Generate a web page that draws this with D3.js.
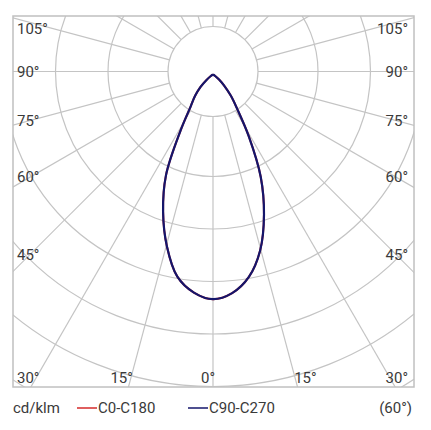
<!DOCTYPE html>
<html>
<head>
<meta charset="utf-8">
<script src="https://cdn.jsdelivr.net/npm/d3@7"></script>
<style>
  html, body { margin: 0; padding: 0; background: #fff; }
  svg { display: block; }
  text { font-family: Roboto, "Noto Sans", sans-serif; font-size: 15px; fill: #3a3a3a; }
</style>
</head>
<body>
<svg id="chart" width="431" height="430"></svg>
<script>
// ---- data ----
const ringValues = [200, 300, 400, 500, 600, 700];           // cd/klm rings
const sideLabels = [105, 90, 75, 60, 45];                     // degrees on left/right edges
const bottomLabels = [-30, -15, 0, 15, 30];                   // degrees on bottom edge
const gammaAngles = [0, 5, 10, 15, 20, 25, 30, 35, 40, 45, 50, 55, 60, 70, 80, 90];
const valuesC90  = [428, 418, 392, 347, 284, 215, 137, 81, 53, 30, 15, 5, 0, 0, 0, 0];
const valuesC270 = [428, 417, 391, 339, 278, 212, 124, 74, 53, 34, 16, 5, 0, 0, 0, 0];
const valuesC0   = valuesC90;
const valuesC180 = valuesC270;
const legendItems = ["C0-C180", "C90-C270"];
const unitLabel = "cd/klm";
const beamLabel = "(60°)";

// ---- layout ----
const frame = { x: 13, y: 16, w: 401, h: 371 };
const cx = 213, cy = 71.5;
const holeR = 45;
const curveDY = 3;
const gridColor = "#c4c4c4";
const colors = { "C0-C180": "#d42a2a", "C90-C270": "#14166b" };

const svg = d3.select("#chart");
const rScale = d3.scaleLinear().domain([0, 600]).range([0, 315]);

svg.append("defs").append("clipPath").attr("id", "frameClip")
  .append("rect").attr("x", frame.x).attr("y", frame.y).attr("width", frame.w).attr("height", frame.h);

const grid = svg.append("g").attr("clip-path", "url(#frameClip)")
  .append("g").attr("transform", `translate(${cx},${cy})`);

// rings
grid.selectAll("circle.ring").data(ringValues).enter().append("circle")
  .attr("class", "ring").attr("r", d => rScale(d))
  .attr("fill", "none").attr("stroke", gridColor).attr("stroke-width", 1.2);
grid.append("circle").attr("r", holeR)
  .attr("fill", "none").attr("stroke", gridColor).attr("stroke-width", 1.2);

// spokes every 15 degrees (0 = straight down)
const spokes = d3.range(0, 360, 15);
grid.selectAll("line.spoke").data(spokes).enter().append("line")
  .attr("class", "spoke")
  .attr("x1", d => holeR * Math.sin(d * Math.PI / 180))
  .attr("y1", d => holeR * Math.cos(d * Math.PI / 180))
  .attr("x2", d => 700 * Math.sin(d * Math.PI / 180))
  .attr("y2", d => 700 * Math.cos(d * Math.PI / 180))
  .attr("stroke", gridColor).attr("stroke-width", 1.2);

// frame
svg.append("rect").attr("x", frame.x).attr("y", frame.y).attr("width", frame.w).attr("height", frame.h)
  .attr("fill", "none").attr("stroke", "#c0c0c0").attr("stroke-width", 1.5);

// curves
function curvePoints(right, left) {
  const pts = [];
  for (let i = gammaAngles.length - 1; i >= 0; i--) pts.push([-gammaAngles[i], left[i]]);
  for (let i = 1; i < gammaAngles.length; i++) pts.push([gammaAngles[i], right[i]]);
  return pts;
}
const radial = d3.lineRadial()
  .angle(d => Math.PI - d[0] * Math.PI / 180)
  .radius(d => rScale(d[1]))
  .curve(d3.curveCatmullRom.alpha(0.5));

const curves = svg.append("g").attr("transform", `translate(${cx},${cy + curveDY})`);
curves.append("path").datum(curvePoints(valuesC0, valuesC180))
  .attr("d", radial).attr("fill", "none").attr("stroke", colors["C0-C180"]).attr("stroke-width", 2);
curves.append("path").datum(curvePoints(valuesC90, valuesC270))
  .attr("d", radial).attr("fill", "none").attr("stroke", colors["C90-C270"]).attr("stroke-width", 2.2)
  .attr("stroke-linejoin", "round");

// angle labels
const labels = svg.append("g");
const sideX = 30;
sideLabels.forEach(a => {
  const rad = a * Math.PI / 180;
  let y = cy + (cx - sideX) / Math.sin(rad) * Math.cos(rad);
  y = Math.max(y, frame.y + 13);
  labels.append("text").attr("x", frame.x + 4).attr("y", y).attr("dy", "0.35em")
    .attr("text-anchor", "start").text(a + "°");
  labels.append("text").attr("x", frame.x + frame.w - 6).attr("y", y).attr("dy", "0.35em")
    .attr("text-anchor", "end").text(a + "°");
});
const bottomY = 378;
bottomLabels.forEach(a => {
  const xl = cx + (bottomY - cy) * Math.tan(a * Math.PI / 180);
  const t = labels.append("text").attr("y", bottomY).attr("dy", "0.35em").text(Math.abs(a) + "°");
  const w = t.node().getComputedTextLength();
  let x0 = a <= 0 ? xl + 2 - w : xl - 1;
  x0 = Math.max(frame.x + 4, Math.min(x0, frame.x + frame.w - 6 - w));
  t.attr("x", x0).attr("text-anchor", "start");
});

// legend
const ly = 408;
const legend = svg.append("g");
legend.append("text").attr("x", 13).attr("y", ly).attr("dy", "0.35em").text(unitLabel);
const legendX = [77, 188];
legendItems.forEach((name, i) => {
  legend.append("line").attr("x1", legendX[i]).attr("x2", legendX[i] + 20)
    .attr("y1", ly).attr("y2", ly).attr("stroke", colors[name]).attr("stroke-width", 1.5);
  legend.append("text").attr("x", legendX[i] + 21).attr("y", ly).attr("dy", "0.35em").text(name);
});
legend.append("text").attr("x", 412).attr("y", ly).attr("dy", "0.35em")
  .attr("text-anchor", "end").text(beamLabel);
</script>
</body>
</html>
